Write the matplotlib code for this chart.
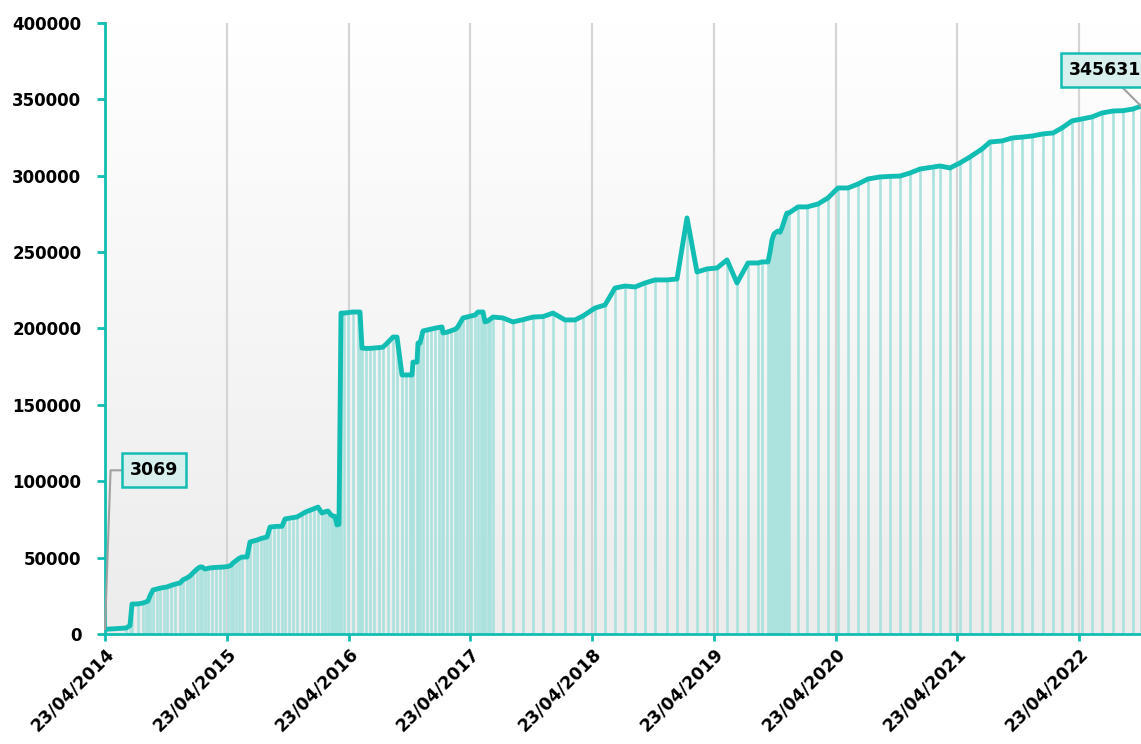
import pandas as pd
import numpy as np
import matplotlib
matplotlib.use("Agg")
import matplotlib.pyplot as plt
import matplotlib.dates as mdates

# days since 23/04/2014 and value
days = [0, 63, 75, 81, 99, 114, 123, 129, 135, 144, 156, 165, 177, 186, 198, 210,
        225, 234, 246, 255, 264, 276, 285, 291, 300, 309, 321, 333, 345, 357, 369,
        378, 384, 393, 402, 411, 426, 435, 447, 456, 468, 477, 486, 495, 507, 519,
        531, 540, 552, 564, 576, 591, 603, 615, 627, 639, 651, 660, 669, 678, 684,
        690, 696, 702, 708, 717, 729, 744, 759, 765, 771, 783, 795, 807, 822, 834,
        849, 864, 876, 891, 903, 915, 921, 924, 936, 939, 945, 954, 966, 978, 990,
        1002, 1011, 1014, 1026, 1038, 1050, 1056, 1065, 1074, 1086, 1098, 1110, 1119,
        1128, 1134, 1140, 1149, 1155, 1164, 1194, 1224, 1254, 1284, 1314, 1344, 1380,
        1410, 1434, 1470, 1500, 1530, 1560, 1590, 1620, 1650, 1686, 1716, 1746, 1776,
        1806, 1836, 1866, 1896, 1929, 1959, 1971, 1989, 1995, 2001, 2007, 2013, 2019,
        2025, 2031, 2037, 2043, 2046, 2052, 2079, 2106, 2139, 2169,
        2199, 2229, 2259, 2289, 2325, 2355, 2385, 2415, 2445, 2484, 2505, 2535, 2565,
        2595, 2631, 2655, 2691, 2721, 2751, 2781, 2814, 2844, 2871, 2901, 2931, 2961,
        2991, 3024, 3054, 3084, 3108]
values = [3069, 3900, 5500, 19600, 19700, 20300, 21000, 21600, 25000, 28800, 29500,
          30000, 30500, 30800, 31800, 32600, 33400, 35500, 36700, 38000, 40000, 42500,
          43900, 43900, 42500, 43000, 43400, 43600, 43700, 43900, 44200, 45000, 46500,
          48000, 49500, 50400, 50400, 60200, 61000, 61500, 62500, 63000, 63500, 70000,
          70300, 70500, 70500, 75300, 75800, 76200, 76600, 78500, 80000, 81000, 82000,
          83100, 79200, 80000, 80500, 78000, 77200, 77000, 71400, 71800, 210100, 210100,
          210400, 210800, 210800, 210800, 187200, 187000, 187000, 187200, 187500, 187800,
          191000, 194400, 194400, 169600, 169600, 169600, 169600, 178000, 178000, 190500,
          190500, 198400, 199000, 199600, 200200, 200700, 201000, 197100, 197600, 198500,
          199500, 200300, 203500, 206900, 207500, 208200, 208800, 210800, 210800, 210800,
          204300, 205000, 206000, 207500, 206900, 204300, 205800, 207500, 207800, 210100,
          205600, 205600, 208200, 213400, 215400, 226500, 227800, 227200, 229800, 231800,
          231800, 232400, 272400, 237000, 239000, 239600, 244900, 229800, 242900, 242900,
          243600, 243600, 250000, 258000, 261900, 263000, 263800, 263000, 266000, 270000,
          274000, 275600, 275600, 279600, 279600, 281500, 285500,
          292000, 292000, 294600, 297900, 299200, 299600, 299800, 301800, 304400, 305700,
          306400, 305100, 308400, 312300, 317500, 322100, 322800, 324700, 325300, 326000,
          327400, 328000, 331300, 335900, 337200, 338500, 341100, 342400, 342600, 343700,
          345631]

start = pd.Timestamp("2014-04-23")
dates = start + pd.to_timedelta(days, unit="D")
tick_dates = [pd.Timestamp(f"{y}-04-23") for y in range(2014, 2023)]

teal = "#12bdb3"

fig = plt.figure(figsize=(11.41, 7.44), dpi=100)
ax = fig.add_axes([105 / 1141, 110 / 744, 1036 / 1141, 611 / 744])

# grey gradient background
grad = np.linspace(1, 0, 256).reshape(-1, 1)
ax.imshow(grad, extent=[0, 1, 0, 1], transform=ax.transAxes, aspect="auto",
          cmap=matplotlib.colors.LinearSegmentedColormap.from_list("bg", ["#ececec", "#ffffff"]),
          zorder=0)

for t in tick_dates:
    ax.axvline(t, color="#d5d5d5", lw=1.6, zorder=1)

ax.vlines(dates, 0, values, color="#ace2de", lw=1.9, zorder=2)
ax.plot(dates, values, color=teal, lw=3.5, zorder=3, solid_joinstyle="round")

ax.set_xlim(dates[0], dates[-1])
ax.set_ylim(0, 400000)
ax.set_yticks(range(0, 400001, 50000))
ax.set_xticks(tick_dates)
ax.xaxis.set_major_formatter(mdates.DateFormatter("%d/%m/%Y"))

for s in ["top", "right"]:
    ax.spines[s].set_visible(False)
for s in ["left", "bottom"]:
    ax.spines[s].set_color(teal)
    ax.spines[s].set_linewidth(2)
    ax.spines[s].set_zorder(4)

ax.tick_params(axis="y", colors=teal, length=6, width=2, pad=11, labelcolor="black",
               labelsize=12)
ax.tick_params(axis="x", colors=teal, length=5, width=2, pad=3, labelcolor="black",
               labelsize=12.5)
for lab in ax.get_yticklabels():
    lab.set_fontweight("bold")
for lab in ax.get_xticklabels():
    lab.set_fontweight("bold")
    lab.set_rotation(45)
    lab.set_ha("right")
    lab.set_va("top")
    lab.set_rotation_mode("anchor")

box = dict(boxstyle="square,pad=0.45", fc="#d7efed", ec=teal, lw=1.8)
ax.annotate(f"{values[0]}", xy=(dates[0], values[0]), xytext=(49, 159),
            textcoords="offset pixels", ha="center", va="center",
            fontsize=12.5, fontweight="bold", bbox=box, zorder=6, annotation_clip=False,
            arrowprops=dict(arrowstyle="-", color="#a0a0a0", lw=1.5,
                            connectionstyle="angle,angleA=0,angleB=88,rad=0",
                            shrinkA=0, shrinkB=0))
ax.annotate(f"{values[-1]}", xy=(dates[-1], values[-1]), xytext=(-36, 36),
            textcoords="offset pixels", ha="center", va="center",
            fontsize=12.5, fontweight="bold", bbox=box, zorder=6, annotation_clip=False,
            arrowprops=dict(arrowstyle="-", color="#a0a0a0", lw=1.5,
                            shrinkA=0, shrinkB=0))

fig.savefig("out.png", dpi=100)
